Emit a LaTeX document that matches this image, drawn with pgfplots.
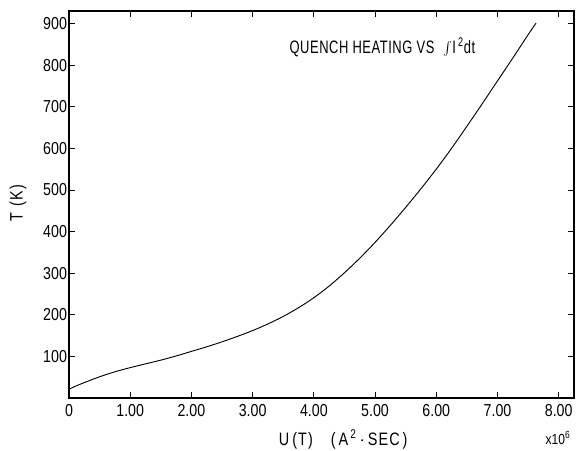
\documentclass[border=0pt]{standalone}
\usepackage{fontspec}
\setmainfont{Liberation Sans}
\newfontfamily\tickfont{Liberation Sans}[FakeStretch=0.82]
\newfontfamily\labelfont{Liberation Sans}[FakeStretch=0.80, LetterSpace=6]
\newfontfamily\titlefont{Liberation Sans}[FakeStretch=0.72, LetterSpace=3]
\usepackage{pgfplots}
\pgfplotsset{compat=1.18}

\begin{document}
\begin{tikzpicture}
% page frame around the plot box
\useasboundingbox (-51.75pt,-39pt) rectangle (389.25pt,298.5pt);
\begin{axis}[
  scale only axis,
  width=378.75pt, height=290.25pt,
  xmin=0, xmax=8.25,
  ymin=0, ymax=930,
  axis line style={line width=0.8pt},
  tick align=inside,
  major tick length=4.5pt,
  tick style={line width=0.6pt, black},
  xtick={0,1,2,3,4,5,6,7,8},
  xticklabels={0,1.00,2.00,3.00,4.00,5.00,6.00,7.00,8.00},
  ytick={100,200,300,400,500,600,700,800,900},
  /pgf/number format/assume math mode=true,
  ticklabel style={font=\tickfont\fontsize{13}{14}\selectfont},
  xticklabel style={yshift=-1pt},
  yticklabel style={xshift=2pt},
  xlabel={U\,(T)\quad(\,A\textsuperscript{\,2}\,$\cdot$\,SEC\,)},
  ylabel={T\,\,(K)},
  label style={font=\labelfont\fontsize{13.5}{15}\selectfont},
  xlabel style={at={(rel axis cs:0.543,0)}, anchor=center, yshift=-31pt},
  ylabel style={at={(rel axis cs:-0.101,0.504)}, anchor=center},
  clip=false,
]
\addplot[black, line width=0.7pt, smooth] coordinates {
  (0.00,21) (0.10,28) (0.25,37) (0.50,51) (0.75,63) (1.00,73)
  (1.25,82) (1.50,91) (1.75,101) (2.00,112) (2.25,123) (2.50,135)
  (2.75,148) (3.00,162) (3.25,178) (3.50,196) (3.75,217) (4.00,241)
  (4.25,269) (4.50,301) (4.75,336) (5.00,374) (5.25,415) (5.50,458)
  (5.75,503) (6.00,550) (6.25,600) (6.50,653) (6.75,707) (7.00,762)
  (7.25,817) (7.50,873) (7.63,901)
};
\node[font=\titlefont\fontsize{13.5}{15}\selectfont] at (axis cs:5.12,842)
  {QUENCH HEATING VS \;$\int$I\textsuperscript{\,2}dt};
\node[font=\tickfont\fontsize{11}{12}\selectfont] at (axis cs:7.99,-96)
  {x10\textsuperscript{6}};
\end{axis}
\end{tikzpicture}
\end{document}
